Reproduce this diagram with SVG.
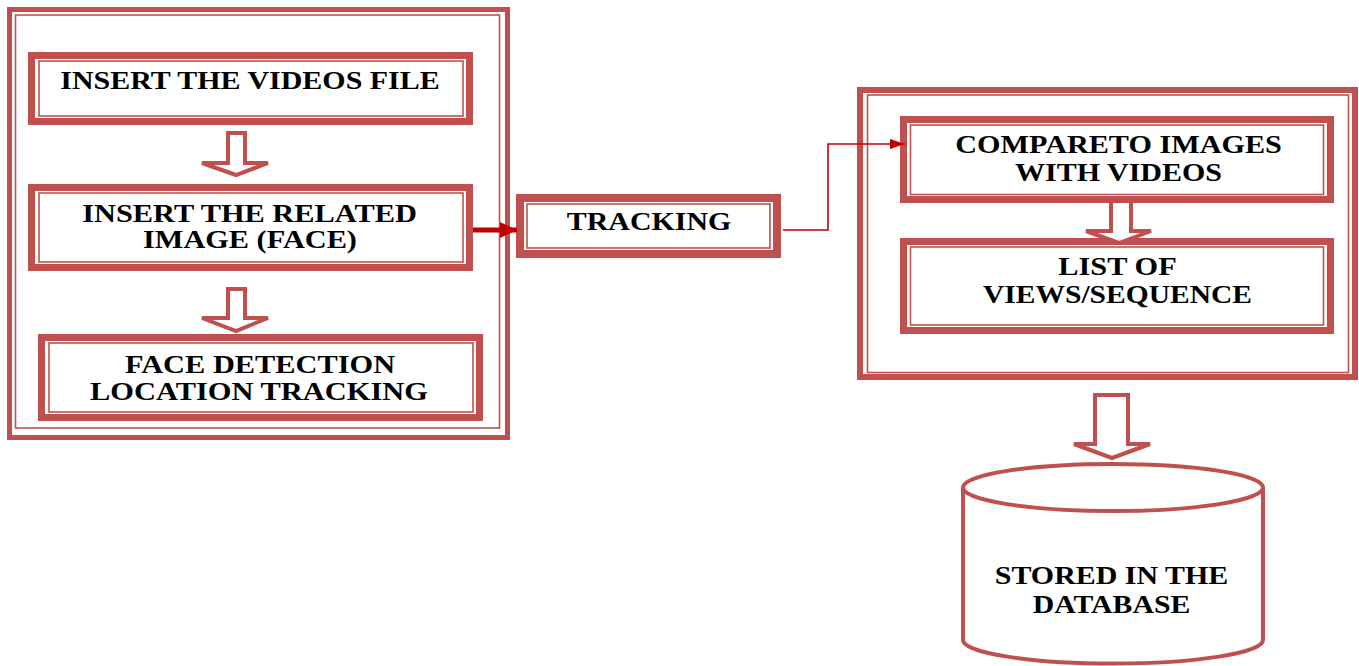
<svg xmlns="http://www.w3.org/2000/svg" width="1359" height="666" viewBox="0 0 1359 666">
<style>
.thick{fill:none;stroke:#c0504d}
.thin{fill:none;stroke:#c0504d;stroke-width:1.6}
.blk{fill:#fff;stroke:#c0504d;stroke-width:4;stroke-linejoin:miter}
.t{font-family:"Liberation Serif","Times New Roman",serif;font-weight:bold;font-size:25px;fill:#000;text-anchor:middle}
.red{stroke:#c00000;fill:none}
</style>
<defs>
<marker id="ahBig" markerUnits="userSpaceOnUse" markerWidth="18" markerHeight="18" refX="17" refY="8" orient="auto">
<path d="M0,0 L17,8 L0,16 Z" fill="#c00000"/>
</marker>
<marker id="ahSmall" markerUnits="userSpaceOnUse" markerWidth="16" markerHeight="12" refX="15" refY="5" orient="auto">
<path d="M0,0 L15,5 L0,10 Z" fill="#c00000"/>
</marker>
</defs>
<rect width="1359" height="666" fill="#fff"/>

<g id="left-container">
<rect class="thick" x="9.5" y="9.5" width="498" height="428" stroke-width="5"/>
<rect class="thin" x="15.5" y="15" width="484" height="413"/>
</g>

<g id="right-container">
<rect class="thick" x="860" y="90" width="495" height="287" stroke-width="6"/>
<rect class="thin" x="867.5" y="95" width="481" height="277.5"/>
</g>

<g id="insert-videos">
<rect class="thick" x="31.5" y="55.5" width="438" height="66" stroke-width="7"/>
<rect class="thin" x="39" y="61" width="424" height="55"/>
<text class="t" transform="matrix(1.15,0,0,1,250,0)" x="0" y="89" textLength="330" lengthAdjust="spacingAndGlyphs">INSERT THE VIDEOS FILE</text>
</g>

<g id="arrow-1">
<path class="blk" d="M228,133 H245 V163 H268 L236,175 L202,163 H228 Z"/>
</g>

<g id="insert-image">
<rect class="thick" x="31.5" y="187.5" width="438" height="80" stroke-width="7"/>
<rect class="thin" x="39" y="193" width="424" height="69"/>
<text class="t" transform="matrix(1.15,0,0,1,249.5,0)" x="0" y="222" textLength="291" lengthAdjust="spacingAndGlyphs">INSERT THE RELATED</text>
<text class="t" transform="matrix(1.15,0,0,1,250,0)" x="0" y="248" textLength="186" lengthAdjust="spacingAndGlyphs">IMAGE (FACE)</text>
</g>

<g id="arrow-2">
<path class="blk" d="M228,289 H245 V318 H268 L236,331 L202,318 H228 Z"/>
</g>

<g id="face-detection">
<rect class="thick" x="41.5" y="337.5" width="438" height="80" stroke-width="7"/>
<rect class="thin" x="49" y="343" width="424" height="69"/>
<text class="t" transform="matrix(1.15,0,0,1,260,0)" x="0" y="373" textLength="235" lengthAdjust="spacingAndGlyphs">FACE DETECTION</text>
<text class="t" transform="matrix(1.15,0,0,1,259,0)" x="0" y="400" textLength="294" lengthAdjust="spacingAndGlyphs">LOCATION TRACKING</text>
</g>

<g id="tracking">
<rect class="thick" x="520" y="198" width="257" height="56" stroke-width="8"/>
<rect class="thin" x="527" y="204" width="243" height="44"/>
<text class="t" transform="matrix(1.15,0,0,1,649,0)" x="0" y="230" textLength="143" lengthAdjust="spacingAndGlyphs">TRACKING</text>
</g>

<g id="compare">
<rect class="thick" x="903.5" y="119.5" width="427" height="80" stroke-width="7"/>
<rect class="thin" x="910.5" y="125" width="413" height="69.5"/>
<text class="t" transform="matrix(1.15,0,0,1,1118.5,0)" x="0" y="153" textLength="284" lengthAdjust="spacingAndGlyphs">COMPARETO IMAGES</text>
<text class="t" transform="matrix(1.15,0,0,1,1118.5,0)" x="0" y="181" textLength="180" lengthAdjust="spacingAndGlyphs">WITH VIDEOS</text>
</g>

<g id="list-views">
<rect class="thick" x="903.5" y="241.5" width="427" height="89" stroke-width="7"/>
<rect class="thin" x="910.5" y="247" width="413" height="78"/>
<text class="t" transform="matrix(1.15,0,0,1,1117.5,0)" x="0" y="275" textLength="103" lengthAdjust="spacingAndGlyphs">LIST OF</text>
<text class="t" transform="matrix(1.15,0,0,1,1117.5,0)" x="0" y="303" textLength="234" lengthAdjust="spacingAndGlyphs">VIEWS/SEQUENCE</text>
</g>

<g id="arrow-3">
<path class="blk" d="M1111,203 V231 H1086 L1119,243 L1151,231 H1131 V203" stroke-width="5"/>
</g>

<g id="arrow-4">
<path class="blk" d="M1095,395 H1128 V444 H1150 L1112,458 L1074,444 H1095 Z"/>
</g>

<g id="database">
<path class="blk" d="M963,487.5 V640 A150,23.5 0 0 0 1263,640 V487.5"/>
<ellipse class="blk" cx="1113" cy="487.5" rx="150" ry="23.5"/>
<text class="t" transform="matrix(1.15,0,0,1,1111.5,0)" x="0" y="584" textLength="203" lengthAdjust="spacingAndGlyphs">STORED IN THE</text>
<text class="t" transform="matrix(1.15,0,0,1,1111.5,0)" x="0" y="613" textLength="137" lengthAdjust="spacingAndGlyphs">DATABASE</text>
</g>

<g id="connectors">
<path class="red" d="M473,230 H517" stroke-width="5" marker-end="url(#ahBig)"/>
<path class="red" d="M783,230 H828 V144 H905" stroke-width="1.6" marker-end="url(#ahSmall)"/>
</g>
</svg>
